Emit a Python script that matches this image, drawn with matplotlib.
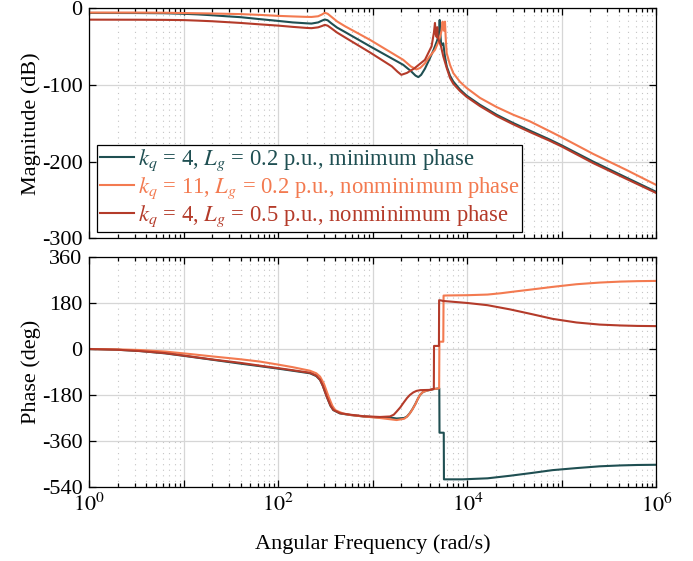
import numpy as np
import matplotlib
matplotlib.use("Agg")
import matplotlib.pyplot as plt
from matplotlib.ticker import LogLocator, NullFormatter, FixedLocator

plt.rcParams['font.family'] = ['Liberation Serif', 'DejaVu Serif']
plt.rcParams['mathtext.fontset'] = 'stix'
plt.rcParams['font.size'] = 16

# series labels / colours
labels = [r'$k_q$ = 4, $L_g$ = 0.2 p.u., minimum phase',
          r'$k_q$ = 11, $L_g$ = 0.2 p.u., nonminimum phase',
          r'$k_q$ = 4, $L_g$ = 0.5 p.u., nonminimum phase']
colors = ['#1f4f52', '#f37a50', '#b43b2a']

# magnitude: log10(w) and dB
mag_teal_lw = [0.0, 0.5, 0.8, 1.0, 1.15, 1.3, 1.45, 1.6, 1.8, 2.0, 2.15, 2.3, 2.35, 2.42, 2.46, 2.49,
               2.52, 2.56, 2.62, 2.7, 2.97, 3.32, 3.40, 3.45, 3.48, 3.51, 3.55, 3.6, 3.64, 3.68,
               3.70, 3.706, 3.712, 3.72, 3.73, 3.744, 3.76, 3.78, 3.815, 3.85, 3.92, 3.99, 4.132,
               4.309, 4.485, 4.661, 4.873, 5.0, 5.331, 5.685, 6.0]
mag_teal_db = [-6.5, -6.6, -6.9, -7.6, -8.4, -9.5, -10.8, -12.0, -14.5, -16.9, -18.8, -20.0, -20.3,
               -18.8, -16.5, -15.0, -16.0, -20.0, -25.5, -31.0, -50.0, -74.0, -82.0, -88.0, -90.0,
               -87.0, -79.0, -66.0, -55.0, -42.0, -30.0, -15.6, -32.0, -45.0, -48.0, -46.0, -62.0,
               -76.0, -88.0, -95.7, -106.0, -114.0, -126.0, -139.0, -149.8, -159.7, -171.4, -179.0,
               -200.0, -221.0, -239.5]

mag_orange_lw = [0.0, 0.5, 0.8, 1.0, 1.15, 1.3, 1.45, 1.6, 1.8, 2.0, 2.15, 2.3, 2.35, 2.42, 2.46,
                 2.49, 2.52, 2.56, 2.62, 2.7, 2.97, 3.32, 3.40, 3.46, 3.50, 3.55, 3.60, 3.656, 3.70,
                 3.725, 3.737, 3.745, 3.755, 3.762, 3.77, 3.78, 3.815, 3.85, 3.92, 3.99, 4.132,
                 4.309, 4.485, 4.661, 4.873, 5.0, 5.331, 5.685, 6.0]
mag_orange_db = [-6.0, -6.0, -6.2, -6.6, -6.9, -7.2, -7.6, -8.0, -9.0, -10.3, -11.0, -11.6, -11.7,
                 -10.8, -8.5, -6.3, -7.5, -11.5, -17.5, -23.5, -41.6, -67.5, -76.0, -80.0, -78.0,
                 -72.0, -63.0, -54.5, -42.0, -30.0, -17.8, -28.0, -30.0, -17.8, -40.0, -58.9, -74.0,
                 -84.8, -96.0, -104.0, -117.0, -129.0, -139.0, -147.6, -160.6, -168.5, -190.0,
                 -211.0, -230.5]

mag_red_lw = [0.0, 0.5, 0.8, 1.0, 1.15, 1.3, 1.45, 1.6, 1.8, 2.0, 2.15, 2.3, 2.35, 2.42, 2.46, 2.49,
              2.52, 2.56, 2.62, 2.7, 2.97, 3.20, 3.26, 3.30, 3.36, 3.44, 3.55, 3.62, 3.645, 3.656,
              3.665, 3.675, 3.68, 3.685, 3.72, 3.744, 3.78, 3.815, 3.85, 3.92, 3.99, 4.132, 4.309,
              4.485, 4.661, 4.873, 5.0, 5.331, 5.685, 6.0]
mag_red_db = [-15.2, -15.3, -15.5, -15.8, -16.5, -17.3, -18.4, -19.5, -21.3, -23.0, -24.6, -26.0,
              -26.3, -25.2, -23.5, -22.0, -23.0, -26.5, -32.0, -38.0, -58.0, -76.0, -83.0, -87.0,
              -84.5, -78.4, -67.5, -50.0, -32.0, -19.5, -35.0, -38.0, -25.0, -38.0, -50.0, -63.0,
              -78.0, -91.0, -98.7, -108.0, -115.6, -127.7, -140.7, -151.5, -161.5, -173.0, -180.5,
              -202.0, -222.7, -241.0]

# phase: log10(w) and degrees
ph_teal_lw = [0.0, 0.3, 0.534, 0.8, 1.063, 1.3, 1.593, 1.8, 1.98, 2.15, 2.333, 2.40, 2.44, 2.47,
              2.51, 2.55, 2.58, 2.65, 2.757, 2.9, 3.074, 3.18, 3.25, 3.33, 3.36, 3.39, 3.42, 3.45,
              3.475, 3.497, 3.53, 3.57, 3.64, 3.702, 3.704, 3.749, 3.751, 3.95, 4.212, 4.45, 4.682,
              4.9, 5.153, 5.4, 5.624, 5.8, 6.0]
ph_teal_deg = [0.0, -3.0, -8.0, -17.0, -30.0, -42.0, -57.0, -67.0, -76.0, -85.0, -95.0, -106.0,
               -121.0, -145.0, -186.0, -222.0, -239.0, -252.0, -258.0, -264.0, -268.0, -268.0,
               -272.0, -270.0, -264.0, -251.0, -234.0, -214.0, -195.0, -180.0, -168.0, -163.0,
               -157.0, -154.0, -327.5, -327.5, -510.0, -510.0, -506.0, -496.0, -485.0, -474.0,
               -466.0, -459.0, -455.5, -453.8, -453.0]

ph_orange_lw = [0.0, 0.3, 0.534, 0.8, 1.063, 1.3, 1.593, 1.8, 1.98, 2.15, 2.333, 2.40, 2.44, 2.48,
                2.53, 2.57, 2.6, 2.68, 2.757, 2.9, 3.074, 3.25, 3.33, 3.36, 3.39, 3.42, 3.45, 3.475,
                3.497, 3.53, 3.57, 3.638, 3.700, 3.703, 3.744, 3.747, 3.788, 4.0, 4.212, 4.35, 4.5,
                4.682, 4.9, 5.153, 5.4, 5.624, 5.8, 6.0]
ph_orange_deg = [0.0, -1.5, -4.0, -10.0, -19.6, -29.0, -40.0, -49.0, -60.0, -71.0, -85.0, -95.0,
                 -108.0, -135.0, -186.0, -222.0, -239.0, -252.0, -258.0, -264.0, -270.0, -278.0,
                 -273.0, -265.0, -252.0, -235.0, -215.0, -195.0, -180.0, -168.0, -163.0, -157.0,
                 -154.0, 28.6, 28.6, 209.0, 209.5, 210.5, 213.0, 218.0, 225.0, 233.0, 243.0, 253.4,
                 260.0, 263.8, 265.5, 266.4]

ph_red_lw = [0.0, 0.3, 0.534, 0.8, 1.063, 1.3, 1.593, 1.8, 1.98, 2.15, 2.333, 2.40, 2.44, 2.47,
             2.51, 2.55, 2.58, 2.65, 2.757, 2.9, 3.074, 3.18, 3.22, 3.25, 3.29, 3.32, 3.36, 3.39,
             3.426, 3.46, 3.5, 3.603, 3.644, 3.646, 3.698, 3.700, 3.72, 3.741, 4.0, 4.212, 4.45,
             4.682, 4.9, 5.153, 5.4, 5.624, 5.8, 6.0]
ph_red_deg = [0.0, -3.0, -8.0, -16.0, -29.0, -41.0, -54.0, -65.0, -74.0, -83.0, -93.0, -104.0,
              -120.0, -144.0, -185.0, -221.0, -238.0, -251.0, -257.0, -263.0, -266.0, -264.0,
              -257.0, -245.0, -228.0, -212.0, -192.0, -180.0, -170.0, -164.0, -161.0, -160.0,
              -156.0, 12.0, 12.0, 191.0, 190.0, 188.0, 180.0, 171.4, 155.0, 136.3, 118.0, 103.8,
              95.5, 92.0, 90.3, 89.5]

mag_sets = [(mag_teal_lw, mag_teal_db), (mag_orange_lw, mag_orange_db), (mag_red_lw, mag_red_db)]
ph_sets = [(ph_teal_lw, ph_teal_deg), (ph_orange_lw, ph_orange_deg), (ph_red_lw, ph_red_deg)]

fig = plt.figure(figsize=(6.93, 5.61), dpi=100)
ax1 = fig.add_axes([0.1291, 0.5749, 0.8182, 0.4109])
ax2 = fig.add_axes([0.1291, 0.1319, 0.8182, 0.4100])


def style_axis(ax):
    ax.set_xscale('log')
    ax.set_xlim(1, 1e6)
    ax.xaxis.set_major_locator(LogLocator(base=10, numticks=10))
    ax.xaxis.set_minor_locator(LogLocator(base=10, subs=np.arange(2, 10), numticks=100))
    ax.xaxis.set_minor_formatter(NullFormatter())
    ax.grid(True, which='major', color='#d6d6d6', lw=0.9, ls='-')
    ax.grid(True, which='minor', axis='x', color='#c4c4c4', lw=0.8, ls=(0, (1, 4)))
    ax.set_axisbelow(True)
    ax.tick_params(which='both', direction='in', top=True, right=True, width=0.9)
    ax.tick_params(which='major', length=5, pad=5)
    ax.tick_params(which='minor', length=3)
    for s in ax.spines.values():
        s.set_linewidth(0.9)
        s.set_color('black')


for (lw_, db), c, lab in zip(mag_sets, colors, labels):
    ax1.plot(np.power(10.0, lw_), db, color=c, lw=1.5, label=lab)
for (lw_, deg), c in zip(ph_sets, colors):
    ax2.plot(np.power(10.0, lw_), deg, color=c, lw=1.5)

style_axis(ax1)
style_axis(ax2)

ax1.set_ylim(-300, 0)
ax1.yaxis.set_major_locator(FixedLocator([-300, -200, -100, 0]))
ax1.set_yticklabels(['-300', '-200', '-100', '0'])
ax1.tick_params(axis='x', labelbottom=False)
ax1.set_ylabel('Magnitude (dB)')

ax2.set_ylim(-540, 360)
ax2.yaxis.set_major_locator(FixedLocator([-540, -360, -180, 0, 180, 360]))
ax2.set_yticklabels(['-540', '-360', '-180', '0', '180', '360'])
ax2.set_xticks([1, 1e1, 1e2, 1e3, 1e4, 1e5, 1e6])
ax2.set_xticklabels([r'$10^0$', '', r'$10^2$', '', r'$10^4$', '', r'$10^6$'])
ax2.set_ylabel('Phase (deg)')
ax2.set_xlabel('Angular Frequency (rad/s)')

ax1.yaxis.set_label_coords(-0.086, 0.5)
ax2.yaxis.set_label_coords(-0.086, 0.5)
ax2.xaxis.set_label_coords(0.5, -0.205)

leg = ax1.legend(loc='lower left', bbox_to_anchor=(0.0138, 0.03), borderaxespad=0,
                 frameon=True, fancybox=False, framealpha=1, edgecolor='black',
                 handlelength=1.5, handletextpad=0.2, labelspacing=0.12, borderpad=0.1,
                 fontsize=16.3)
leg.get_frame().set_linewidth(0.9)
for txt, c in zip(leg.get_texts(), colors):
    txt.set_color(c)

fig.savefig('out.png', dpi=100)
